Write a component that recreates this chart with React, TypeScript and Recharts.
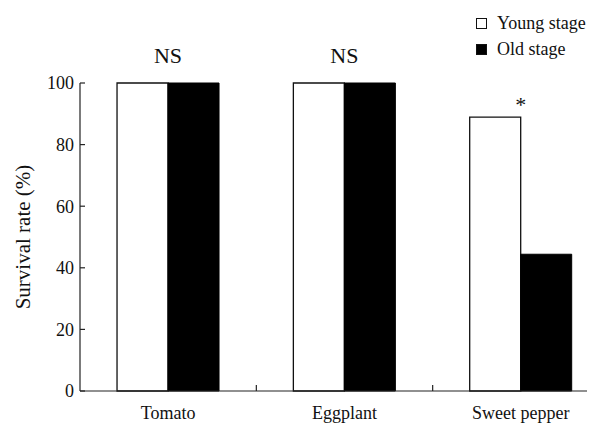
import { BarChart, Bar, XAxis, YAxis, LabelList } from "recharts";

const crops = ["Tomato", "Eggplant", "Sweet pepper"];
const youngStage = [100, 100, 88.9];
const oldStage = [100, 100, 44.4];
const significance = ["NS", "NS", "*"];
const yTicks = [0, 20, 40, 60, 80, 100];

const data = crops.map((crop, i) => ({
  crop,
  young: youngStage[i],
  old: oldStage[i],
  sig: significance[i],
}));

const FONT = '"Liberation Serif", "Tinos", "Times New Roman", serif';
const AXIS = "#222";

function YTick(props: any) {
  const { x, y, payload } = props;
  return (
    <g>
      <line x1={x} x2={x + 5} y1={y} y2={y} stroke={AXIS} strokeWidth={1.2} />
      <text x={x - 6} y={y} dy="0.35em" textAnchor="end" fontSize={18} style={{ fontFamily: FONT }} fill="#111">
        {payload.value}
      </text>
    </g>
  );
}

function XTick(props: any) {
  const { x, y, payload, index, width, visibleTicksCount } = props;
  const band = Number(width) / Number(visibleTicksCount);
  const left = x - band / 2;
  return (
    <g>
      {index > 0 && <line x1={left} x2={left} y1={y} y2={y - 6} stroke={AXIS} strokeWidth={1.2} />}
      <text x={x} y={y + 28} textAnchor="middle" fontSize={18} style={{ fontFamily: FONT }} fill="#111">
        {payload.value}
      </text>
    </g>
  );
}

function SigLabel(props: any) {
  const { x, y, width, value } = props;
  const lift = value === "*" ? 5 : 20;
  return (
    <text
      x={Number(x) + Number(width)}
      y={Number(y) - lift}
      textAnchor="middle"
      fontSize={22}
      style={{ fontFamily: FONT }}
      fill="#111"
    >
      {value}
    </text>
  );
}

function LegendRow({ label, fill }: { label: string; fill: string }) {
  return (
    <div style={{ display: "flex", alignItems: "center", height: 26, lineHeight: "26px" }}>
      <span
        style={{
          display: "inline-block",
          width: 9,
          height: 9,
          border: "1.3px solid #111",
          background: fill,
          marginRight: 10,
        }}
      />
      <span>{label}</span>
    </div>
  );
}

export default function App() {
  return (
    <div
      style={{
        position: "relative",
        width: 587,
        height: 415,
        overflow: "hidden",
        background: "#fff",
        fontFamily: FONT,
      }}
    >
      <BarChart
        width={611}
        height={415}
        data={data}
        margin={{ top: 75, right: 10, left: 0, bottom: 0 }}
        barCategoryGap="21%"
        barGap={0}
        style={{ fontFamily: FONT }}
      >
        <XAxis
          dataKey="crop"
          height={32}
          tickLine={false}
          tickSize={0}
          tickMargin={0}
          interval={0}
          axisLine={{ stroke: AXIS, strokeWidth: 1.2 }}
          tick={<XTick />}
        />
        <YAxis
          width={72}
          domain={[0, 100]}
          ticks={yTicks}
          tickLine={false}
          tickSize={0}
          tickMargin={0}
          axisLine={{ stroke: AXIS, strokeWidth: 1.2 }}
          tick={<YTick />}
          label={{
            value: "Survival rate (%)",
            angle: -90,
            position: "insideLeft",
            offset: 15,
            style: { textAnchor: "middle", fontSize: 21, fontFamily: FONT, fill: "#111" },
          }}
        />
        <Bar dataKey="young" fill="#fff" stroke="#111" strokeWidth={1.3} isAnimationActive={false}>
          <LabelList dataKey="sig" content={<SigLabel />} />
        </Bar>
        <Bar dataKey="old" fill="#000" stroke="#000" strokeWidth={1} isAnimationActive={false} />
      </BarChart>
      <div
        style={{
          position: "absolute",
          left: 468,
          top: 2,
          fontSize: 18,
          color: "#111",
        }}
      >
        <LegendRow label="Young stage" fill="#fff" />
        <LegendRow label="Old stage" fill="#000" />
      </div>
    </div>
  );
}
